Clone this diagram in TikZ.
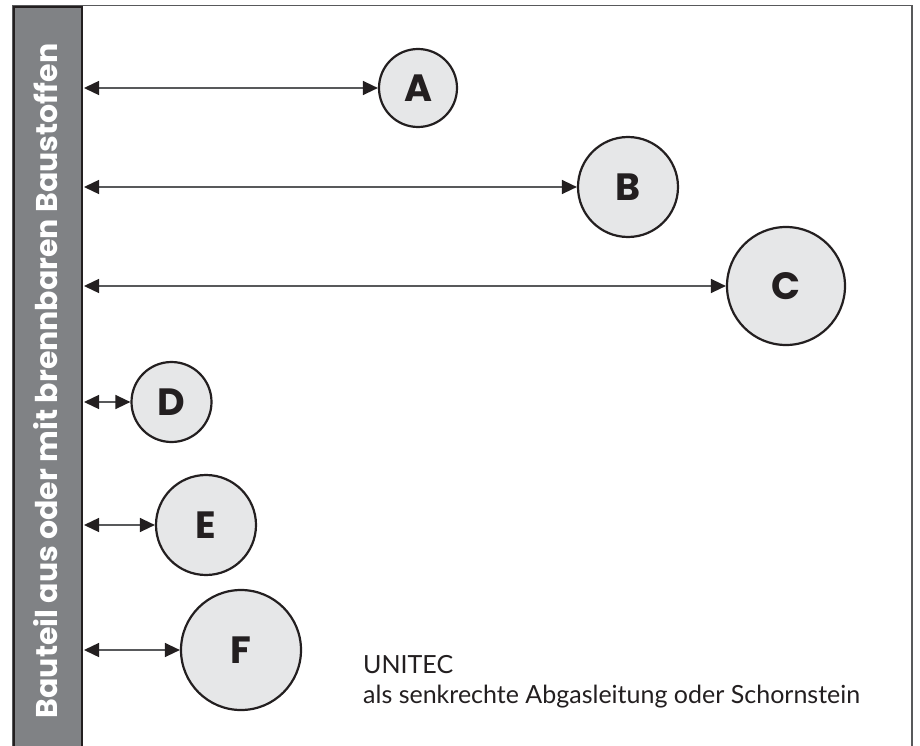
\documentclass[tikz,border=0pt]{standalone}
\usepackage{fontspec}
\setmainfont{Lato}
\newfontfamily\heavy{Poppins}
\usetikzlibrary{arrows.meta}
\definecolor{barfill}{HTML}{808285}
\definecolor{dark}{HTML}{231F20}
\definecolor{circfill}{HTML}{E6E7E8}
\definecolor{framec}{HTML}{58595B}
\tikzset{
  circ/.style={circle, draw=dark, line width=2.2pt, fill=circfill, inner sep=0pt,
    font=\heavy\fontsize{38}{38}\selectfont\bfseries, text=dark},
  arr/.style={draw=framec, line width=1.4pt,
    {Triangle[length=15pt,width=14pt,color=dark]}-{Triangle[length=15pt,width=14pt,color=dark]}},
}
\begin{document}
\begin{tikzpicture}[x=1pt,y=-1pt]
\useasboundingbox (0,0) rectangle (920,746);
\fill[white] (0,0) rectangle (920,746);
% frame
\draw[framec, line width=1.5pt] (13,800) -- (13,5.5) -- (912,5.5) -- (912,800);
% bar
\node[draw=dark, line width=2pt, fill=barfill, minimum width=68pt, minimum height=760pt,
  inner sep=0pt, anchor=north west] (bar) at (13,6) {};
\node[rotate=90, text=white, font=\heavy\fontsize{30}{30}\selectfont\bfseries] (lbl) at (46,381)
  {Bauteil aus oder mit brennbaren Baustoffen};
% circles
\node[circ, minimum size=78pt] (A) at (418,88) {A};
\node[circ, minimum size=100pt] (B) at (628,187) {B};
\node[circ, minimum size=118pt] (C) at (786,286) {C};
\node[circ, minimum size=80pt] (D) at (171.5,402) {D};
\node[circ, minimum size=100pt] (E) at (206,525) {E};
\node[circ, minimum size=120pt] (F) at (241,650) {F};
% arrows
\foreach \n in {A,B,C,D,E,F}{
  \draw[arr, shorten <=1pt] (bar.east |- \n.west) -- (\n.west);
}
% text
\node[anchor=north west, align=left, inner sep=0pt, text=dark,
  font=\fontsize{25}{30}\selectfont] (txt) at (363,655)
  {UNITEC\\als senkrechte Abgasleitung oder Schornstein};
\end{tikzpicture}
\end{document}
